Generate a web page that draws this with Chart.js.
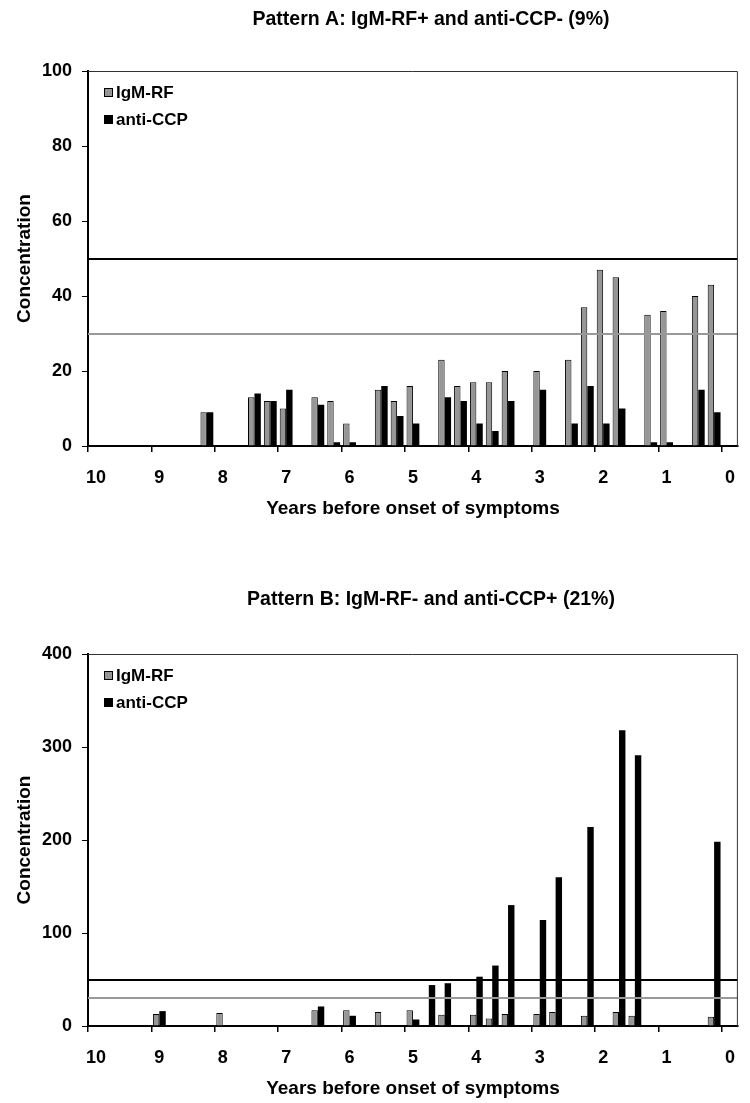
<!DOCTYPE html>
<html><head><meta charset="utf-8">
<script src="https://cdn.jsdelivr.net/npm/chart.js@4.4.0/dist/chart.umd.min.js"></script>
<style>
html,body{margin:0;padding:0;background:#fff;overflow:hidden;width:750px;height:1103px;}
canvas{position:absolute;left:0;}
#cA{top:0px}
#cB{top:580px}
</style></head><body>
<canvas id="cA" width="750" height="523"></canvas>
<canvas id="cB" width="750" height="523"></canvas>
<script>
// ---- data ----
const yearLabels = ['10','9','8','7','6','5','4','3','2','1','0'];
const slotsPerYear = 4;
const seriesNames = ['IgM-RF','anti-CCP'];

// Pattern A (41 quarter-year slots, 10 -> 0 years)
const A_igmrf = [null,null,null,null,null,null,null,9,null,null,13,12,10,null,13,12,6,null,15,12,16,null,23,16,17,17,20,null,20,null,23,37,47,45,null,35,36,null,40,43,null];
const A_ccp   = [null,null,null,null,null,null,null,9,null,null,14,12,15,null,11,1,1,null,16,8,6,null,13,12,6,4,12,null,15,null,6,16,6,10,null,1,1,null,15,9,null];
const A_thresholds = [50, 30];

// Pattern B
const B_igmrf = [null,null,null,null,13,null,null,null,14,null,null,null,null,null,17,null,17,null,15,null,17,null,12,null,12,8,13,null,13,15,null,11,null,15,11,null,null,null,null,10,null];
const B_ccp   = [null,null,null,null,16,null,null,null,1,null,null,null,null,null,21,null,11,null,1,null,7,44,46,null,53,65,130,null,114,160,null,214,null,318,291,null,null,null,null,198,null];
const B_thresholds = [50, 30];

const thresholdColors = ['#000000','#999999'];

// ---- build ----
const slotLabels = [];
for (let i = 0; i <= (yearLabels.length - 1) * slotsPerYear; i++) {
  slotLabels.push(i % slotsPerYear === 0 ? yearLabels[i / slotsPerYear] : '');
}

const FONT = '"Liberation Sans", Arial, sans-serif';

const refPlugin = {
  id: 'refLines',
  afterDatasetsDraw(chart, args, opts) {
    const {ctx, chartArea} = chart;
    const {left, right, top, bottom} = chartArea;
    const y = chart.scales.y;
    (opts.values || []).forEach((v, i) => {
      const py = Math.round(y.getPixelForValue(v));
      ctx.save();
      ctx.strokeStyle = thresholdColors[i];
      ctx.lineWidth = 2;
      ctx.beginPath();
      ctx.moveTo(left, py);
      ctx.lineTo(right, py);
      ctx.stroke();
      ctx.restore();
    });
    // plot-area frame (top and right)
    ctx.save();
    ctx.strokeStyle = '#333333';
    ctx.lineWidth = 1;
    ctx.beginPath();
    ctx.moveTo(left, top + 0.5);
    ctx.lineTo(right - 0.5, top + 0.5);
    ctx.lineTo(right - 0.5, bottom);
    ctx.stroke();
    ctx.restore();
  },
  afterDraw(chart, args, opts) {
    const {ctx, chartArea} = chart;
    // title
    ctx.save();
    ctx.fillStyle = '#000';
    ctx.font = 'bold 19.5px ' + FONT;
    ctx.textAlign = 'center';
    ctx.textBaseline = 'middle';
    ctx.fillText(opts.title, opts.titleX, opts.titleY);
    ctx.restore();
    // legend inside plot area
    const ds = chart.data.datasets;
    ctx.save();
    ctx.font = 'bold 17px ' + FONT;
    ctx.textAlign = 'left';
    ctx.textBaseline = 'middle';
    ds.forEach((d, i) => {
      const cy = chartArea.top + opts.legendRows[i];
      const bx = opts.legendX;
      const bs = 9;
      ctx.fillStyle = d.backgroundColor;
      ctx.fillRect(bx, Math.round(cy - bs / 2), bs, bs);
      ctx.strokeStyle = '#000';
      ctx.lineWidth = 1;
      ctx.strokeRect(bx + 0.5, Math.round(cy - bs / 2) + 0.5, bs - 1, bs - 1);
      ctx.fillStyle = '#000';
      ctx.fillText(d.label, bx + bs + 3, cy + 1);
    });
    ctx.restore();
  }
};

function makeChart(id, title, rf, ccp, yMax, yStep, thresholds, topPad) {
  return new Chart(document.getElementById(id), {
    type: 'bar',
    data: {
      labels: slotLabels,
      datasets: [
        {label: seriesNames[0], data: rf, backgroundColor: '#969696', borderColor: '#000000', borderWidth: 1, borderSkipped: 'start', categoryPercentage: 0.81, barPercentage: 1},
        {label: seriesNames[1], data: ccp, backgroundColor: '#000000', borderColor: '#000000', borderWidth: 0, categoryPercentage: 0.81, barPercentage: 1}
      ]
    },
    options: {
      responsive: false,
      animation: false,
      devicePixelRatio: 1,
      layout: {padding: {left: 0, right: 2, top: topPad, bottom: 0}},
      plugins: {
        title: {display: false},
        legend: {display: false},
        tooltip: {enabled: false},
        refLines: {values: thresholds, title: title, titleX: 431, titleY: 20,
          legendX: 104, legendRows: [21.5, 48]}
      },
      scales: {
        x: {
          type: 'category',
          offset: true,
          grid: {offset: true, drawOnChartArea: false, tickLength: 6, lineWidth: 1.5,
            color: (c) => (c.index !== undefined && c.index % slotsPerYear === 0) ? '#000' : 'rgba(0,0,0,0)'},
          border: {display: true, color: '#000', width: 2},
          ticks: {autoSkip: false, maxRotation: 0, minRotation: 0, color: '#000', padding: 15,
            font: {family: FONT, size: 18, weight: 'bold'}},
          title: {display: true, text: 'Years before onset of symptoms', color: '#000',
            font: {family: FONT, size: 19, weight: 'bold'}, padding: {top: 0, bottom: 3}},
          afterFit: (s) => { s.height = 77; }
        },
        y: {
          min: 0, max: yMax,
          grid: {drawOnChartArea: false, tickLength: 6, color: '#000', lineWidth: 1},
          border: {display: true, color: '#000', width: 2},
          ticks: {stepSize: yStep, color: '#000', padding: 10,
            font: {family: FONT, size: 18, weight: 'bold'}},
          title: {display: true, text: 'Concentration', color: '#000',
            font: {family: FONT, size: 19, weight: 'bold'}, padding: {top: 13.6, bottom: 0}},
          afterFit: (s) => { s.width = 88; }
        }
      }
    },
    plugins: [refPlugin]
  });
}

makeChart('cA', 'Pattern A: IgM-RF+ and anti-CCP- (9%)', A_igmrf, A_ccp, 100, 20, A_thresholds, 71);
makeChart('cB', 'Pattern B: IgM-RF- and anti-CCP+ (21%)', B_igmrf, B_ccp, 400, 100, B_thresholds, 74);
</script>
</body></html>
